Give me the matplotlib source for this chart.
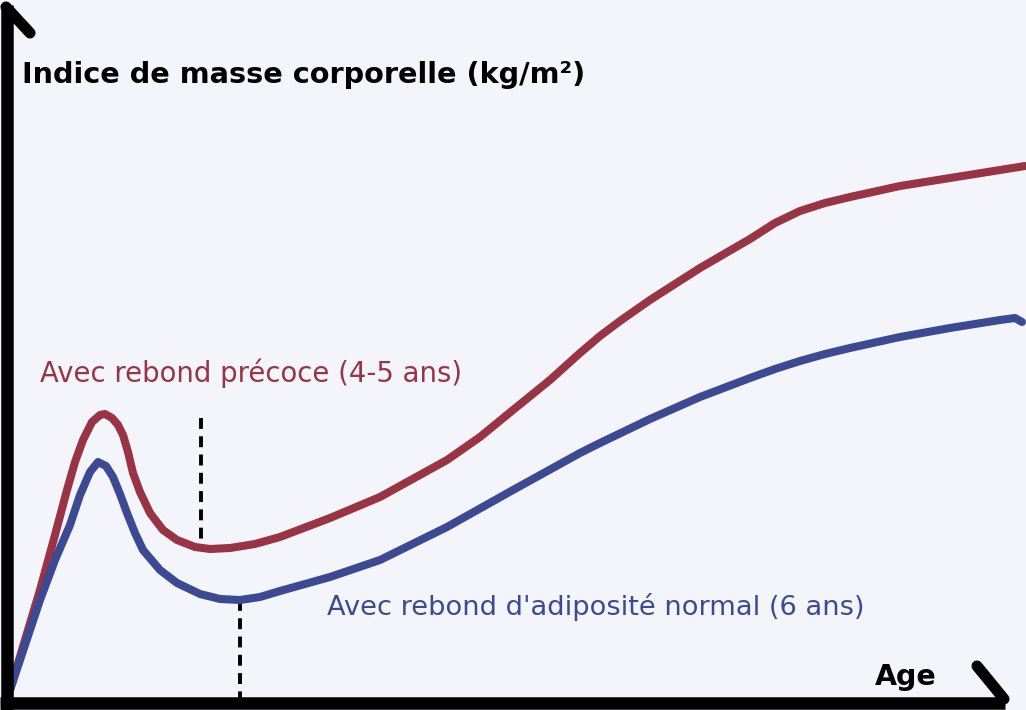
import matplotlib.pyplot as plt

# === Data (drawing units: x = age, y = IMC, y grows downward) ===
age_precoce = [10, 25, 40, 55, 67, 75, 83, 92, 100, 105, 112, 118, 123, 128, 133, 140, 150, 163,
               177, 195, 210, 230, 255, 280, 330, 380, 447, 480, 513, 550, 580, 600, 620, 650,
               700, 750, 775, 800, 825, 850, 900, 950, 1000, 1025]
imc_precoce = [690, 640, 590, 535, 490, 462, 440, 422, 415, 414, 418, 425, 435, 452, 473, 492, 513, 530,
               540, 547, 549, 548, 544, 537, 518, 497, 460, 437, 410, 380, 353, 336, 321, 300,
               268, 239, 223, 211, 203, 197, 186, 178, 170, 166]

age_normal = [10, 25, 40, 55, 70, 80, 90, 98, 106, 113, 120, 127, 135, 143, 160, 177, 200, 220,
              240, 260, 280, 330, 380, 447, 513, 580, 600, 650, 700, 750, 775, 800, 825, 850, 900, 950,
              1000, 1015, 1022]
imc_normal = [690, 645, 600, 560, 525, 495, 472, 462, 466, 477, 494, 513, 533, 550, 570, 583, 594, 599,
              600, 597, 591, 577, 560, 527, 490, 453, 443, 419, 397, 378, 369, 361, 354, 348, 337, 328,
              320, 318, 322]

rebond_precoce = 201
rebond_normal = 240

red = "#983443"
blue = "#3b4a93"
bg = "#f4f5fa"

fig = plt.figure(figsize=(10.26, 7.10), dpi=100, facecolor=bg)
ax = fig.add_axes([0, 0, 1, 1])
ax.set_facecolor(bg)
ax.set_xlim(0, 1026)
ax.set_ylim(710, 0)
ax.axis("off")

# courbes
ax.plot(age_precoce, imc_precoce, color=red, lw=5.8, solid_capstyle="round", solid_joinstyle="round", zorder=3)
ax.plot(age_normal, imc_normal, color=blue, lw=5.8, solid_capstyle="round", solid_joinstyle="round", zorder=3)

# rebonds (pointillés)
ax.plot([rebond_precoce, rebond_precoce], [418, 542], color="black", lw=2.8, dashes=(2.8, 1.9), zorder=2)
ax.plot([rebond_normal, rebond_normal], [600, 700], color="black", lw=2.8, dashes=(2.8, 1.9), zorder=2)

# axes + flèches
ax.plot([7, 7], [710, 5], color="black", lw=9, solid_capstyle="butt", zorder=4)
ax.plot([6, 30], [7, 33], color="black", lw=8, solid_capstyle="round", zorder=4)
ax.plot([0, 1005], [703, 703], color="black", lw=9, solid_capstyle="butt", zorder=4)
ax.plot([977, 1004], [666, 699], color="black", lw=8, solid_capstyle="round", zorder=4)

# textes
ax.text(22, 75, "Indice de masse corporelle (kg/m²)", fontsize=20.7, fontweight="bold",
        va="center", ha="left", color="black")
ax.text(937, 677, "Age", fontsize=20.5, fontweight="bold", va="center", ha="right", color="black")
ax.text(40, 373, "Avec rebond précoce (4-5 ans)", fontsize=19.8, va="center", ha="left", color=red)
ax.text(327, 607, "Avec rebond d'adiposité normal (6 ans)", fontsize=19.6, va="center", ha="left", color=blue)

plt.savefig("out.png", dpi=100, facecolor=bg)
plt.close()
